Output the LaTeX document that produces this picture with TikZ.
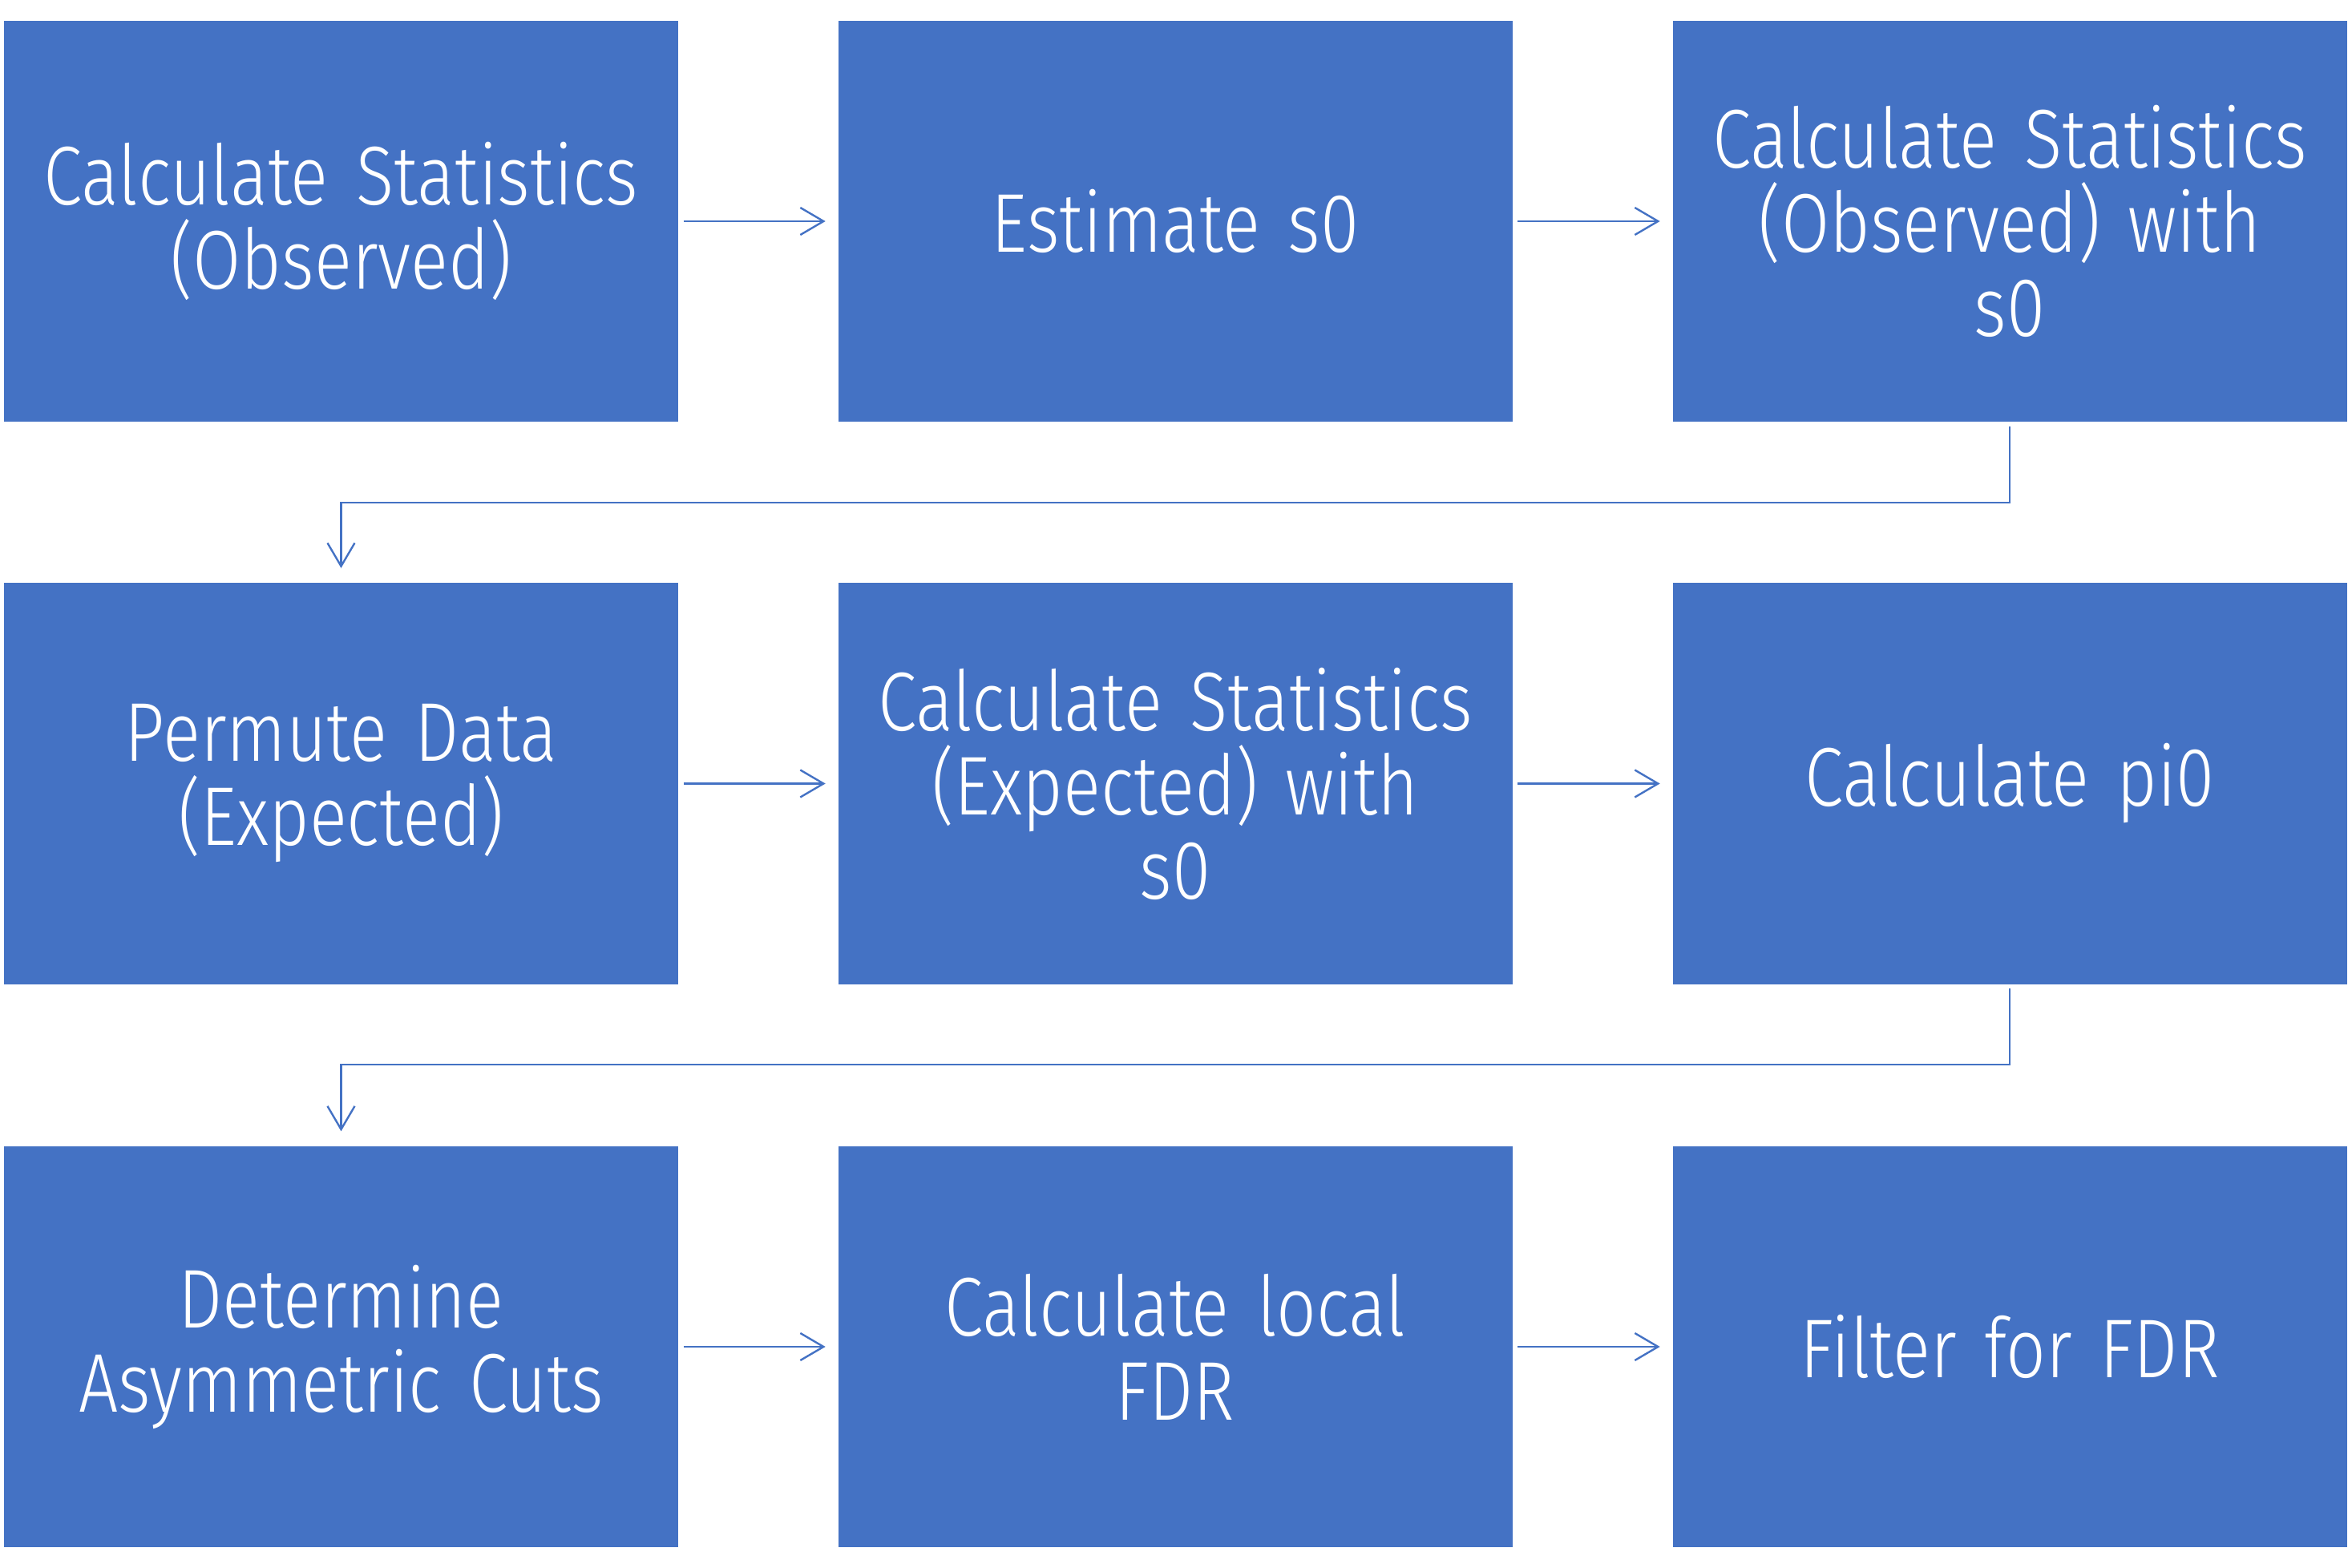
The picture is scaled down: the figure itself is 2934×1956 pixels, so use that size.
\documentclass[tikz,border=0pt]{standalone}
\usepackage{fontspec}
\setmainfont{Fira Sans Light}[FakeStretch=0.84]
\usetikzlibrary{arrows.meta}
\definecolor{boxblue}{HTML}{4472C4}
\tikzset{
  stepbox/.style={fill=boxblue, draw=none, minimum width=210.25pt, minimum height=125pt,
    inner sep=0pt, text=white, align=center, text width=205pt,
    font=\fontsize{26pt}{26.25pt}\selectfont},
  conn/.style={draw=boxblue, line width=0.6pt,
    -{Straight Barb[length=7.25pt,width=8.5pt,line width=0.6pt]}},
}
\begin{document}
\begin{tikzpicture}[x=0.25pt,y=-0.25pt]
\useasboundingbox (0,0) rectangle (2934,1956);
\node[stepbox] (a) at (425.5,276) {Calculate Statistics\\(Observed)};
\node[stepbox] (b) at (1466,276) {Estimate s0};
\node[stepbox] (c) at (2507,276) {Calculate Statistics\\(Observed) with\\s0};
\node[stepbox] (d) at (425.5,977.5) {Permute Data\\(Expected)};
\node[stepbox] (e) at (1466,977.5) {Calculate Statistics\\(Expected) with\\s0};
\node[stepbox] (f) at (2507,977.5) {Calculate pi0};
\node[stepbox] (g) at (425.5,1680) {Determine\\Asymmetric Cuts};
\node[stepbox] (h) at (1466,1680) {Calculate local\\FDR};
\node[stepbox] (i) at (2507,1680) {Filter for FDR};
\coordinate (k1) at (2507,627);
\coordinate (k2) at (425.5,627);
\coordinate (k3) at (2507,1328);
\coordinate (k4) at (425.5,1328);
\draw[conn, shorten <=1.5pt, shorten >=3.75pt] (a.east) -- (b.west);
\draw[conn, shorten <=1.5pt, shorten >=3.75pt] (b.east) -- (c.west);
\draw[conn, shorten <=1.5pt, shorten >=3.75pt] (d.east) -- (e.west);
\draw[conn, shorten <=1.5pt, shorten >=3.75pt] (e.east) -- (f.west);
\draw[conn, shorten <=1.5pt, shorten >=3.75pt] (g.east) -- (h.west);
\draw[conn, shorten <=1.5pt, shorten >=3.75pt] (h.east) -- (i.west);
\draw[conn, shorten <=1.25pt, shorten >=4.5pt] (c.south) -- (k1) -- (k2) -- (d.north);
\draw[conn, shorten <=1.25pt, shorten >=4.5pt] (f.south) -- (k3) -- (k4) -- (g.north);
\end{tikzpicture}
\end{document}
